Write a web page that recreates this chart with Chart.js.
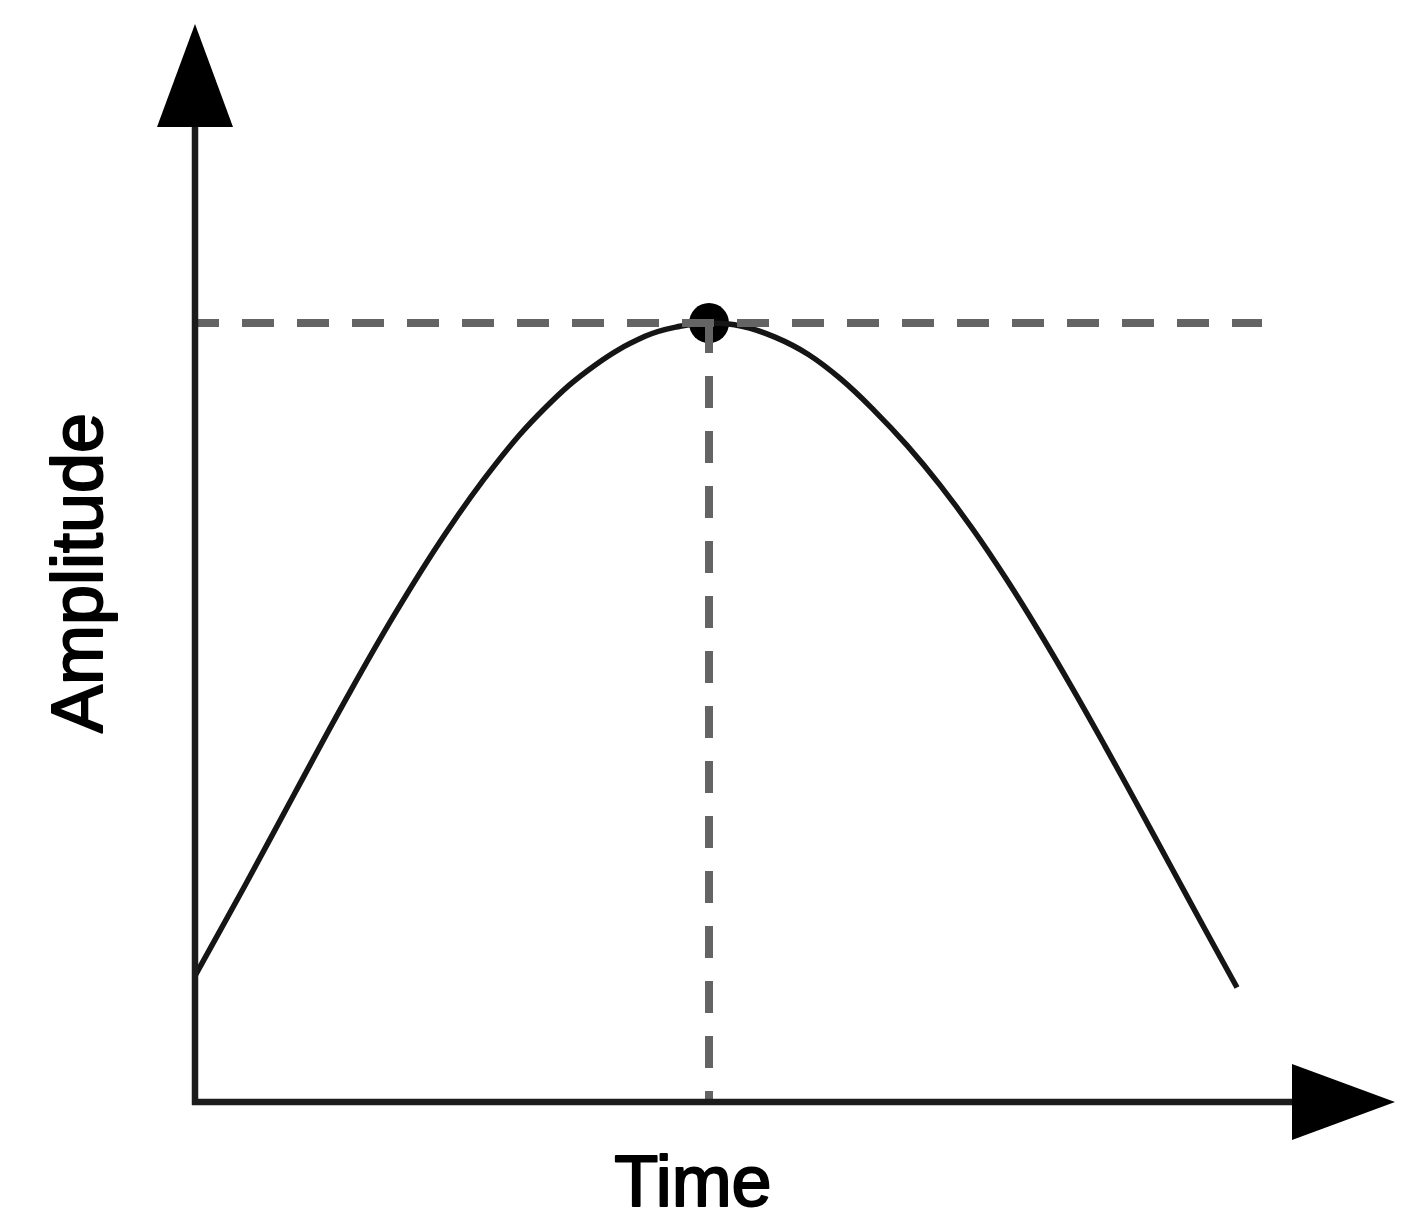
<!DOCTYPE html>
<html>
<head>
<meta charset="utf-8">
<title>Amplitude over time</title>
<script src="https://cdn.jsdelivr.net/npm/chart.js@4/dist/chart.umd.min.js"></script>
<style>
  html, body { margin: 0; padding: 0; background: #fff; }
  canvas { display: block; }
</style>
</head>
<body>
<canvas id="chart" width="1423" height="1231"></canvas>
<script>
// curve: time (arbitrary units) vs amplitude (peak = 1)
const times = [0, 0.50, 1.00, 1.50, 2.00, 2.50, 3.00, 3.50, 4.00, 4.50, 4.85, 5.14,
  5.47, 5.80, 6.13, 6.46, 6.79, 7.12, 7.45, 7.78, 8.11, 8.44, 8.77, 9.10, 9.43, 9.76, 10.09, 10.42];
const amplitudes = [0.162, 0.278, 0.397, 0.515, 0.627, 0.729, 0.818, 0.891, 0.946, 0.983, 0.996, 1.0,
  0.996, 0.982, 0.960, 0.928, 0.888, 0.843, 0.792, 0.735, 0.672, 0.604, 0.532, 0.457, 0.380, 0.302, 0.224, 0.147];

const peakTime = 5.14;
const peakAmplitude = 1.0;
const guideEndTime = 10.67;

const xMax = 12;
const yMax = 1.384;

const xLabel = 'Time';
const yLabel = 'Amplitude';

const curve = times.map((t, i) => ({ x: t, y: amplitudes[i] }));

// axes with arrow heads and the two labels
const axesPlugin = {
  id: 'arrowAxes',
  afterDatasetsDraw(chart) {
    const { ctx, chartArea, scales } = chart;
    const x0 = scales.x.getPixelForValue(0);
    const y0 = scales.y.getPixelForValue(0);
    const head = 103, half = 38;

    ctx.save();
    ctx.strokeStyle = '#1c1c1c';
    ctx.fillStyle = '#000';
    ctx.lineWidth = 6.5;
    ctx.lineCap = 'butt';

    ctx.beginPath();
    ctx.moveTo(x0, y0 + 3);
    ctx.lineTo(x0, chartArea.top + head - 2);
    ctx.moveTo(x0 - 3, y0);
    ctx.lineTo(chartArea.right - head + 2, y0);
    ctx.stroke();

    // y arrow
    ctx.beginPath();
    ctx.moveTo(x0, chartArea.top);
    ctx.lineTo(x0 - half, chartArea.top + head);
    ctx.lineTo(x0 + half, chartArea.top + head);
    ctx.closePath();
    ctx.fill();

    // x arrow
    ctx.beginPath();
    ctx.moveTo(chartArea.right, y0);
    ctx.lineTo(chartArea.right - head, y0 - half);
    ctx.lineTo(chartArea.right - head, y0 + half);
    ctx.closePath();
    ctx.fill();

    ctx.font = '72px "Liberation Sans", Arial, sans-serif';
    ctx.textAlign = 'center';
    ctx.textBaseline = 'alphabetic';
    ctx.strokeStyle = '#000';
    ctx.lineWidth = 2;
    ctx.lineJoin = 'round';
    ctx.fillText(xLabel, 693, 1206);
    ctx.strokeText(xLabel, 693, 1206);

    ctx.translate(102, 573);
    ctx.rotate(-Math.PI / 2);
    ctx.fillText(yLabel, 0, 0);
    ctx.strokeText(yLabel, 0, 0);
    ctx.restore();
  }
};

new Chart(document.getElementById('chart').getContext('2d'), {
  type: 'scatter',
  data: {
    datasets: [
      {
        // horizontal guide at the peak
        data: [{ x: 0.03, y: peakAmplitude }, { x: guideEndTime, y: peakAmplitude }],
        showLine: true,
        borderColor: '#646464',
        borderWidth: 8,
        borderDash: [32, 23],
        borderDashOffset: 11,
        borderCapStyle: 'butt',
        pointRadius: 0,
        clip: false,
      },
      {
        // vertical guide from the peak to the time axis
        data: [{ x: peakTime, y: peakAmplitude }, { x: peakTime, y: 0 }],
        showLine: true,
        borderColor: '#646464',
        borderWidth: 8,
        borderDash: [32, 23],
        borderDashOffset: 2,
        borderCapStyle: 'butt',
        pointRadius: 0,
        clip: false,
      },
      {
        data: curve,
        showLine: true,
        borderColor: '#151515',
        borderWidth: 5.5,
        tension: 0.4,
        pointRadius: 0,
        clip: false,
      },
      {
        data: [{ x: peakTime, y: peakAmplitude }],
        backgroundColor: '#000',
        borderWidth: 0,
        pointRadius: 20,
        clip: false,
      },
    ],
  },
  options: {
    responsive: false,
    animation: false,
    events: [],
    layout: {
      padding: { left: 195, right: 28, top: 24, bottom: 129 },
    },
    scales: {
      x: { type: 'linear', min: 0, max: xMax, display: false },
      y: { type: 'linear', min: 0, max: yMax, display: false },
    },
    plugins: {
      legend: { display: false },
      tooltip: { enabled: false },
    },
  },
  plugins: [axesPlugin],
});
</script>
</body>
</html>
